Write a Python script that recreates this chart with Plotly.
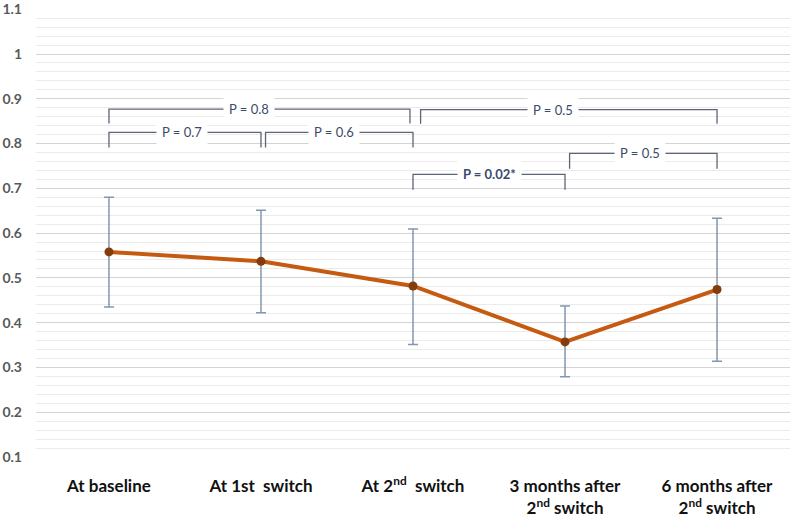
import plotly.graph_objects as go

categories = ["At baseline", "At 1st  switch", "At 2<sup>nd</sup>  switch",
              "3 months after<br>2<sup>nd</sup> switch", "6 months after<br>2<sup>nd</sup> switch"]
means = [0.558, 0.537, 0.482, 0.357, 0.474]
upper = [0.680, 0.651, 0.609, 0.437, 0.633]
lower = [0.435, 0.422, 0.351, 0.279, 0.314]

# comparison brackets: (start index, end index, bracket top, label, label x (cat units), bold)
br_start = [0.0, 0.0, 1.03, 2.05, 2.0, 3.03]
br_end = [1.98, 1.0, 2.0, 4.0, 3.0, 4.0]
br_top = [0.877, 0.825, 0.825, 0.876, 0.731, 0.778]
br_drop = [0.032, 0.034, 0.034, 0.032, 0.034, 0.034]
br_label = ["P = 0.8", "P = 0.7", "P = 0.6", "P = 0.5", "P = 0.02*", "P = 0.5"]
br_labx = [0.92, 0.48, 1.48, 2.92, 2.5, 3.49]
br_bold = [False, False, False, False, True, False]

x_idx = list(range(len(categories)))

fig = go.Figure()
fig.add_trace(go.Scatter(
    x=x_idx, y=means, mode="lines+markers",
    line=dict(color="#c55a11", width=4),
    marker=dict(color="#843c0c", size=9),
    error_y=dict(type="data", symmetric=False,
                 array=[u - m for u, m in zip(upper, means)],
                 arrayminus=[m - l for m, l in zip(means, lower)],
                 color="#8497b0", thickness=1.5, width=5),
    showlegend=False, hoverinfo="skip"))

lc = "#5d6676"
for s, e, t, d, lab, lx, b in zip(br_start, br_end, br_top, br_drop, br_label, br_labx, br_bold):
    fig.add_shape(type="path",
                  path=f"M {s} {t-d} L {s} {t} L {e} {t} L {e} {t-d}",
                  xref="x", yref="y", line=dict(color=lc, width=1.3))
    txt = f"<b>{lab}</b>" if b else lab
    fig.add_annotation(x=lx, y=t, xref="x", yref="y", text=txt, showarrow=False,
                       bgcolor="white", borderpad=5,
                       font=dict(family="Lato, Open Sans, sans-serif", size=13, color="#3b4a6b"))

fig.update_layout(
    width=797, height=518,
    margin=dict(l=36, r=7, t=9, b=61),
    paper_bgcolor="white", plot_bgcolor="white",
    xaxis=dict(range=[-0.48, 4.48], tickmode="array", tickvals=x_idx, ticktext=categories,
               showgrid=False, zeroline=False, showline=False, ticks="", automargin=False,
               ticklabelstandoff=17,
               tickfont=dict(family="Lato, Open Sans, sans-serif", size=17, color="#111111", weight="bold")),
    yaxis=dict(range=[0.1, 1.1005], showgrid=True, gridcolor="#d4d4d4",
               gridwidth=1.3, zeroline=False, showline=False, ticks="", automargin=False,
               tickmode="array",
               tickvals=[0.1, 0.2, 0.3, 0.4, 0.5, 0.6, 0.7, 0.8, 0.9, 1.0, 1.1],
               ticktext=["0.1", "0.2", "0.3", "0.4", "0.5", "0.6", "0.7", "0.8", "0.9", "1", "1.1"],
               minor=dict(dtick=0.02, tick0=0.1, showgrid=True, gridcolor="#ebebeb", gridwidth=1),
               tickfont=dict(family="Lato, Open Sans, sans-serif", size=14, color="#595959", weight="bold"),
               ticklabelstandoff=13),
)
fig.write_html("out.html", config={"displayModeBar": False},
               post_script="document.body.style.margin='0';")
